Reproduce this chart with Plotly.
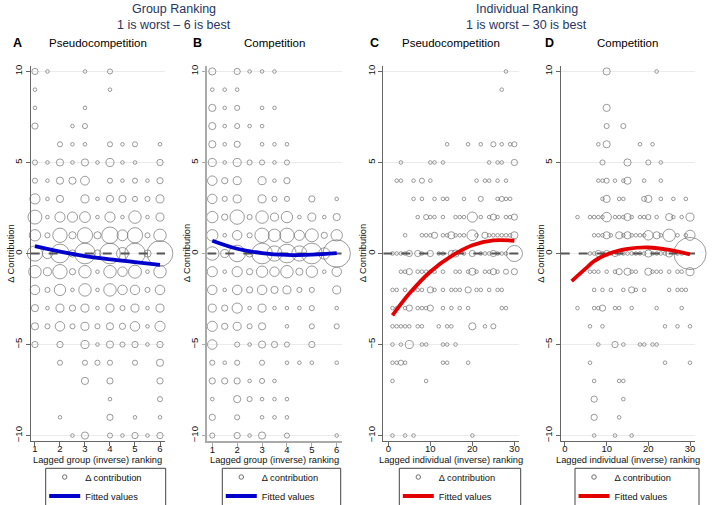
import numpy as np
import plotly.graph_objects as go

W, H = 715, 505

# ---------------- DATA ----------------
# (lagged rank, delta contribution, frequency)
A_pts = [
    (1,10,3),(1.5,10,1),(3,10,1),(4,10,2),
    (1,9,1),(4,9,1),
    (1,8,1),(3,8,1),
    (1,7,3),(2.5,7,1),(3,7,2),
    (2,6,2),(2.5,6,1),(3,6,1),(4,6,2),(4.5,6,1),(5,6,2),(6,6,1),
    (1,5,2),(1.5,5,1),(2,5,4),(2.5,5,1),(3,5,4),(3.5,5,1),(4,5,5),(4.5,5,1),(5,5,1),(6,5,3),
    (1,4,2),(1.5,4,1),(2,4,4),(2.5,4,4),(3,4,6),(4,4,2),(4.5,4,1),(5,4,2),(5.5,4,1),(6,4,3),
    (1,3,8),(1.5,3,1),(2,3,4),(3,3,5),(3.5,3,1),(4,3,4),(4.5,3,4),(5,3,2),(5.5,3,2),(6,3,5),
    (1,2,15),(1.5,2,1),(2,2,8),(2.5,2,8),(3,2,9),(3.5,2,1),(4,2,8),(4.5,2,1),(5,2,12),(5.5,2,1),(6,2,5),
    (1,1,10),(1.5,1,2),(2,1,16),(2.5,1,4),(3,1,18),(3.5,1,4),(4,1,21),(4.5,1,9),(5,1,18),(5.5,1,2),(6,1,12),
    (1,0,18),(1.5,0,8),(2,0,27),(2.5,0,4),(3,0,33),(3.5,0,4),(4,0,33),(4.5,0,11),(5,0,33),(5.5,0,4),(6,0,51),
    (1,-1,12),(1.5,-1,5),(2,-1,16),(2.5,-1,3),(3,-1,12),(3.5,-1,1),(4,-1,12),(4.5,-1,7),(5,-1,13),(5.5,-1,1),(6,-1,12),
    (1,-2,7),(1.5,-2,2),(2,-2,10),(2.5,-2,1),(3,-2,12),(3.5,-2,1),(4,-2,12),(4.5,-2,7),(5,-2,7),(5.5,-2,2),(6,-2,7),
    (1,-3,4),(1.5,-3,1),(2,-3,5),(2.5,-3,3),(3,-3,5),(3.5,-3,1),(4,-3,5),(4.5,-3,2),(5,-3,5),(5.5,-3,1),(6,-3,5),
    (1,-4,4),(1.5,-4,2),(2,-4,7),(2.5,-4,2),(3,-4,5),(3.5,-4,2),(4,-4,4),(4.5,-4,3),(5,-4,7),(5.5,-4,1),(6,-4,8),
    (1,-5,3),(2,-5,3),(3,-5,5),(3.5,-5,1),(4,-5,4),(4.5,-5,2),(5,-5,3),(5.5,-5,1),(6,-5,3),
    (2,-6,2),(3,-6,2),(3.5,-6,2),(4,-6,2),(5,-6,2),(6,-6,4),
    (3,-7,4),(4,-7,3),(6,-7,3),
    (4,-8,1),(6,-8,2),
    (2,-9,1),(4,-9,3),(5,-9,1),(6,-9,1),
    (2.5,-10,1),(3,-10,4),(4,-10,2),(4.5,-10,1),(5,-10,3),(5.5,-10,1),(6,-10,3),
]

B_pts = [
    (1,10,4),(2,10,3),(2.5,10,1),(3,10,1),(3.5,10,1),
    (1,9,1),(1.5,9,1),(2,9,1),
    (1,8,4),(1.5,8,1),(2,8,2),(3,8,1),(3.5,8,1),
    (1,7,4),(1.5,7,1),(2,7,2),(2.5,7,1),(3,7,1),
    (1,6,4),(1.5,6,1),(2,6,3),(3,6,1),(3.5,6,1),(4,6,1),
    (1,5,5),(1.5,5,1),(2,5,5),(2.5,5,2),(3,5,2),(3.5,5,1),(4,5,2),
    (1,4,7),(1.5,4,3),(2,4,5),(3,4,5),(3.5,4,1),(4,4,3),
    (1,3,7),(1.5,3,2),(2,3,5),(3,3,5),(3.5,3,2),(4,3,2),(5,3,3),(6,3,1),
    (1,2,10),(1.5,2,3),(2,2,16),(2.5,2,2),(3,2,12),(3.5,2,5),(4,2,10),(4.5,2,1),(5,2,5),(5.5,2,1),(6,2,4),
    (1,1,10),(1.5,1,1),(2,1,7),(2.5,1,2),(3,1,16),(3.5,1,12),(4,1,16),(4.5,1,8),(5,1,13),(5.5,1,3),(6,1,10),
    (1,0,14),(1.5,0,5),(2,0,21),(2.5,0,4),(3,0,33),(3.5,0,18),(4,0,27),(4.5,0,18),(5,0,33),(5.5,0,10),(6,0,58),
    (1,-1,8),(1.5,-1,1),(2,-1,8),(2.5,-1,3),(3,-1,10),(3.5,-1,7),(4,-1,12),(4.5,-1,4),(5,-1,10),(5.5,-1,1),(6,-1,7),
    (1,-2,7),(1.5,-2,1),(2,-2,7),(2.5,-2,3),(3,-2,7),(3.5,-2,4),(4,-2,5),(4.5,-2,2),(5,-2,2),(6,-2,5),
    (1,-3,5),(1.5,-3,3),(2,-3,8),(2.5,-3,1),(3,-3,5),(3.5,-3,1),(4,-3,1),(4.5,-3,1),(5,-3,2),(6,-3,1),
    (1,-4,8),(1.5,-4,3),(2,-4,5),(2.5,-4,2),(3,-4,4),(4,-4,1),(5,-4,2),(6,-4,2),
    (1,-5,7),(2,-5,2),(2.5,-5,1),(3,-5,4),(3.5,-5,3),(4,-5,2),(5,-5,3),
    (1,-6,2),(1.5,-6,1),(2,-6,2),(3,-6,2),(4,-6,1),(4.5,-6,1),(5,-6,1),(6,-6,1),
    (1,-7,3),(1.5,-7,3),(2,-7,3),(2.5,-7,1),(3,-7,2),(3.5,-7,1),
    (1,-8,1),(2,-8,4),(2.5,-8,2),(3,-8,1),(3.5,-8,1),(4,-8,1),
    (1,-9,3),(2,-9,2),(3,-9,1),(3.5,-9,1),(4,-9,1),
    (1,-10,2),(2,-10,3),(2.5,-10,1),(3,-10,4),(4,-10,2),(6,-10,1),
]

C_pts = [
    (28,10,1),
    (27,9,1),
    (14,6,1),(19,6,1),(22,6,1),(25,6,2),(27,6,1),(29,6,1),(30,6,2),
    (3,5,1),(10,5,1),(11,5,1),(13,5,1),(24,5,1),(26,5,1),(27,5,1),(30,5,3),
    (2,4,1),(3,4,1),(6,4,1),(8,4,2),(10,4,1),(21,4,1),(23,4,1),(24,4,1),(26,4,1),(28,4,1),
    (6,3,1),(8,3,1),(11,3,1),(13,3,1),(14,3,1),(18,3,1),(22,3,2),(26,3,1),(27,3,2),(28,3,1),(29,3,1),
    (7,2,1),(9,2,2),(10,2,1),(11,2,1),(13,2,1),(16,2,1),(17,2,1),(18,2,1),(20,2,8),(22,2,1),(24,2,1),
    (25,2,3),(26,2,1),(28,2,1),(29,2,1),(30,2,3),
    (4,1,1),(8,1,1),(9,1,1),(10,1,1),(11,1,3),(13,1,1),(14,1,1),(15,1,4),(16,1,1),(17,1,1),(18,1,1),
    (20,1,9),(21,1,1),(23,1,3),(24,1,1),(25,1,1),(26,1,1),(27,1,1),(28,1,1),(29,1,1),(30,1,4),
    (1,0,1),(2,0,1),(3,0,1),(4,0,1),(5,0,3),(7,0,3),(8,0,1),(10,0,3),(12,0,1),(13,0,1),(15,0,3),
    (16,0,4),(18,0,1),(20,0,3),(22,0,1),(23,0,1),(24,0,1),(25,0,3),(26,0,1),(27,0,1),(28,0,1),(30,0,20),
    (3,-1,1),(4,-1,1),(5,-1,3),(7,-1,1),(8,-1,1),(9,-1,1),(10,-1,1),(11,-1,1),(13,-1,1),(16,-1,1),
    (17,-1,1),(19,-1,1),(20,-1,4),(21,-1,1),(23,-1,1),(24,-1,1),(25,-1,3),(26,-1,1),(28,-1,2),(30,-1,3),
    (1,-2,1),(2,-2,1),(4,-2,1),(6,-2,1),(7,-2,1),(8,-2,1),(10,-2,3),(11,-2,1),(13,-2,1),(15,-2,1),
    (16,-2,1),(17,-2,1),(19,-2,3),(21,-2,1),(22,-2,1),(24,-2,1),(26,-2,1),(27,-2,1),
    (1,-3,1),(2,-3,1),(4,-3,1),(5,-3,3),(7,-3,1),(8,-3,1),(9,-3,1),(10,-3,3),(13,-3,1),(15,-3,1),
    (17,-3,1),(19,-3,1),(27,-3,1),(28,-3,1),
    (1,-4,1),(2,-4,1),(3,-4,1),(4,-4,1),(5,-4,1),(7,-4,1),(8,-4,1),(12,-4,1),(14,-4,1),(15,-4,1),
    (20,-4,4),(23,-4,1),(25,-4,2),
    (1,-5,1),(3,-5,1),(5,-5,5),(8,-5,1),(9,-5,1),(13,-5,1),(14,-5,1),(16,-5,1),
    (1,-6,1),(2,-6,1),(3,-6,2),(4,-6,1),(13,-6,1),(14,-6,1),(19,-6,1),
    (1,-7,1),(9,-7,1),
    (1,-10,1),(4,-10,1),(6,-10,1),(20,-10,1),
]

D_pts = [
    (10,10,4),(22,10,1),
    (10,8,4),
    (10,7,2),(14,7,2),
    (8,6,1),(10,6,4),(18,6,1),(21,6,1),
    (9,5,2),(15,5,4),(20,5,2),(23,5,1),
    (8,4,1),(9,4,1),(10,4,2),(12,4,1),(14,4,1),(15,4,4),(19,4,1),(23,4,1),
    (9,3,1),(10,3,4),(13,3,1),(14,3,1),(19,3,2),(20,3,4),(23,3,1),(26,3,1),(29,3,1),
    (3,2,1),(6,2,1),(7,2,1),(8,2,1),(9,2,1),(10,2,7),(12,2,1),(13,2,1),(14,2,1),(15,2,4),(16,2,1),
    (18,2,1),(19,2,1),(20,2,2),(22,2,1),(25,2,4),(26,2,1),(28,2,1),(30,2,5),
    (7,1,1),(8,1,1),(9,1,1),(10,1,4),(11,1,1),(13,1,4),(14,1,1),(15,1,4),(16,1,1),(17,1,1),(18,1,1),
    (19,1,1),(20,1,7),(22,1,4),(23,1,1),(25,1,12),(27,1,1),(29,1,1),(30,1,8),
    (6,0,1),(7,0,1),(8,0,3),(9,0,1),(10,0,3),(11,0,1),(12,0,3),(13,0,1),(14,0,1),(15,0,1),(16,0,1),
    (17,0,1),(18,0,1),(19,0,1),(20,0,4),(21,0,1),(22,0,1),(23,0,1),(24,0,1),(25,0,4),(27,0,1),(28,0,1),(30,0,80),
    (6,-1,1),(7,-1,1),(8,-1,1),(10,-1,1),(12,-1,1),(13,-1,3),(15,-1,4),(16,-1,1),(17,-1,1),(20,-1,4),
    (21,-1,1),(22,-1,1),(23,-1,1),(25,-1,1),(27,-1,1),(28,-1,1),(30,-1,5),
    (7,-2,1),(9,-2,1),(11,-2,1),(14,-2,1),(16,-2,3),(17,-2,1),(19,-2,1),(25,-2,1),(27,-2,1),(28,-2,1),(29,-2,1),
    (3,-3,1),(7,-3,1),(8,-3,1),(9,-3,3),(12,-3,1),(13,-3,1),(16,-3,1),(22,-3,1),(28,-3,1),
    (6,-4,1),(9,-4,1),(24,-4,1),(27,-4,1),(30,-4,1),
    (8,-5,1),(12,-5,3),(14,-5,1),(18,-5,1),(19,-5,1),(21,-5,1),(22,-5,1),
    (6,-6,1),(24,-6,1),(30,-6,1),
    (7,-7,1),(13,-7,1),(14,-7,1),
    (7,-8,3),(14,-8,1),
    (7,-9,3),(13,-9,1),
    (7,-10,1),(12,-10,1),(16,-10,1),
]

# fitted values
A_fit_x = [1, 2, 3, 4, 5, 6]
A_fit_y = [0.40, 0.10, -0.14, -0.32, -0.47, -0.62]
B_fit_x = [1, 2, 3, 4, 5, 6]
B_fit_y = [0.70, 0.26, 0.02, -0.08, -0.06, 0.02]
C_fit_x = [1, 5, 10, 15, 20, 25, 30]
C_fit_y = [-3.40, -2.20, -1.00, -0.15, 0.45, 0.72, 0.70]
D_fit_x = [1.6, 5, 7, 10, 15, 20, 25, 30]
D_fit_y = [-1.52, -0.82, -0.42, -0.05, 0.25, 0.33, 0.20, -0.05]

group_ticks = [1, 2, 3, 4, 5, 6]
indiv_ticks = [0, 10, 20, 30]
y_ticks = [-10, -5, 0, 5, 10]

# ---------------- STYLE ----------------
FONT = "Liberation Sans, Arial, Helvetica, sans-serif"
BLUE = "rgb(0,0,205)"
RED = "rgb(228,0,0)"
CIRC = "#707070"
NAVY = "#27355f"

def px_x(v):
    return v / W

def px_y(v):
    return 1 - v / H

Y_TOP, Y_BOT = 66.0, 441.0
panels = [
    dict(pts=A_pts, fx=A_fit_x, fy=A_fit_y, col=BLUE, xr=[0.83, 6.2], ticks=group_ticks,
         xt="Lagged group (inverse) ranking", sub="Pseudocompetition", letter="A",
         px=(30.7, 165.0), lx=17.5, box=(45.7, 165.7), axc="#666", axw=1),
    dict(pts=B_pts, fx=B_fit_x, fy=B_fit_y, col=BLUE, xr=[0.8, 6.2], ticks=group_ticks,
         xt="Lagged group (inverse) ranking", sub="Competition", letter="B",
         px=(207.3, 341.7), lx=197, box=(222.3, 340.7), axc="#aaa", axw=1.6),
    dict(pts=C_pts, fx=C_fit_x, fy=C_fit_y, col=RED, xr=[-1.19, 31.1], ticks=indiv_ticks,
         xt="Lagged individual (inverse) ranking", sub="Pseudocompetition", letter="C",
         px=(383.3, 519.0), lx=374, box=(399.3, 520.7), axc="#666", axw=1),
    dict(pts=D_pts, fx=D_fit_x, fy=D_fit_y, col=RED, xr=[-1.03, 31.2], ticks=indiv_ticks,
         xt="Lagged individual (inverse) ranking", sub="Competition", letter="D",
         px=(560.7, 695.0), lx=549, box=(575.0, 699.0), axc="#666", axw=1),
]

fig = go.Figure()
layout = dict(
    width=W, height=H, autosize=False, template="none",
    margin=dict(l=0, r=0, t=0, b=0, pad=0, autoexpand=False),
    paper_bgcolor="white", plot_bgcolor="rgba(0,0,0,0)",
    font=dict(family=FONT, size=9, color="#111"),
    showlegend=True,
)
annotations, shapes = [], []

for i, p in enumerate(panels):
    k = "" if i == 0 else str(i + 1)
    xa, ya = "x" + k, "y" + k
    leg = "legend" + k
    xs, ys, ns = zip(*p["pts"])
    sizes = [3.6 * np.sqrt(n) for n in ns]

    fig.add_trace(go.Scatter(
        x=xs, y=ys, mode="markers", xaxis=xa, yaxis=ya, showlegend=False,
        cliponaxis=False, hoverinfo="skip",
        marker=dict(symbol="circle-open", size=sizes, color=CIRC,
                    line=dict(width=1.0, color=CIRC)),
    ))
    # zero reference line spanning the axis range
    fig.add_trace(go.Scatter(
        x=p["xr"], y=[0, 0], mode="lines", xaxis=xa, yaxis=ya, showlegend=False,
        hoverinfo="skip", line=dict(color="#555", width=1.8, dash="dash"),
    ))
    # dummy entry for the legend
    fig.add_trace(go.Scatter(
        x=[None], y=[None], mode="markers", xaxis=xa, yaxis=ya, legend=leg,
        name="Δ contribution",
        marker=dict(symbol="circle-open", size=4.5, color=CIRC, line=dict(width=1.0, color=CIRC)),
    ))
    fig.add_trace(go.Scatter(
        x=p["fx"], y=p["fy"], mode="lines", xaxis=xa, yaxis=ya, legend=leg,
        name="Fitted values", line=dict(color=p["col"], width=3.8, shape="spline"),
        hoverinfo="skip",
    ))

    dom = [px_x(p["px"][0]), px_x(p["px"][1])]
    ydom = [px_y(Y_BOT), px_y(Y_TOP)]
    layout["xaxis" + k] = dict(
        domain=dom, range=p["xr"], anchor=ya, tickvals=p["ticks"], showgrid=False,
        zeroline=False, showline=True, linecolor=p["axc"], linewidth=p["axw"],
        ticks="outside", ticklen=4, tickcolor=p["axc"], tickfont=dict(size=9.5, color="#111"),
        ticklabelstandoff=-5, automargin=False,
    )
    layout["yaxis" + k] = dict(
        domain=ydom, range=[-10.3, 10.3], anchor=xa, tickvals=y_ticks, showgrid=True,
        gridcolor="#ebebeb", gridwidth=1, zeroline=False, showline=True,
        linecolor=p["axc"], linewidth=p["axw"], ticks="outside", ticklen=4,
        tickcolor=p["axc"], tickangle=-90, tickfont=dict(size=9.5, color="#111"),
        automargin=False,
    )
    layout[leg] = dict(
        x=px_x(p["box"][0] - 1.5), y=px_y(462.5), xanchor="left", yanchor="top",
        bgcolor="rgba(0,0,0,0)", borderwidth=0, font=dict(size=9.3, color="#111"),
        itemwidth=31, tracegroupgap=0,
    )
    # legend frame
    shapes.append(dict(type="rect", xref="paper", yref="paper",
                       x0=px_x(p["box"][0]), x1=px_x(p["box"][1]),
                       y0=-0.02, y1=px_y(468.3), line=dict(color="#444", width=1)))
    cx = (p["px"][0] + p["px"][1]) / 2
    annotations += [
        dict(text="<b>" + p["letter"] + "</b>", x=px_x(p["lx"]), y=px_y(43.5),
             font=dict(size=12.5, color="#000")),
        dict(text=p["sub"], x=px_x(cx), y=px_y(43.5), font=dict(size=11.5, color="#000")),
        dict(text=p["xt"], x=px_x(cx), y=px_y(459.5), font=dict(size=9.3, color="#111")),
        dict(text="Δ Contribution", x=px_x(p["px"][0] - 20.5), y=px_y((Y_TOP + Y_BOT) / 2),
             textangle=-90, font=dict(size=9.3, color="#111")),
    ]

annotations += [
    dict(text="Group Ranking", x=px_x(174), y=px_y(8.5), font=dict(size=12.5, color=NAVY)),
    dict(text="1 is worst – 6 is best", x=px_x(174), y=px_y(24.5), font=dict(size=12.5, color=NAVY)),
    dict(text="Individual Ranking", x=px_x(526.5), y=px_y(8.5), font=dict(size=12.5, color=NAVY)),
    dict(text="1 is worst – 30 is best", x=px_x(526.5), y=px_y(24.5), font=dict(size=12.5, color=NAVY)),
]
for a in annotations:
    a.update(xref="paper", yref="paper", showarrow=False, xanchor="center", yanchor="middle")

layout["annotations"] = annotations
layout["shapes"] = shapes
fig.update_layout(**layout)
fig.write_html(
    "out.html",
    config={"displayModeBar": False},
    post_script="document.body.style.margin='0px';document.body.style.overflow='hidden';",
)
